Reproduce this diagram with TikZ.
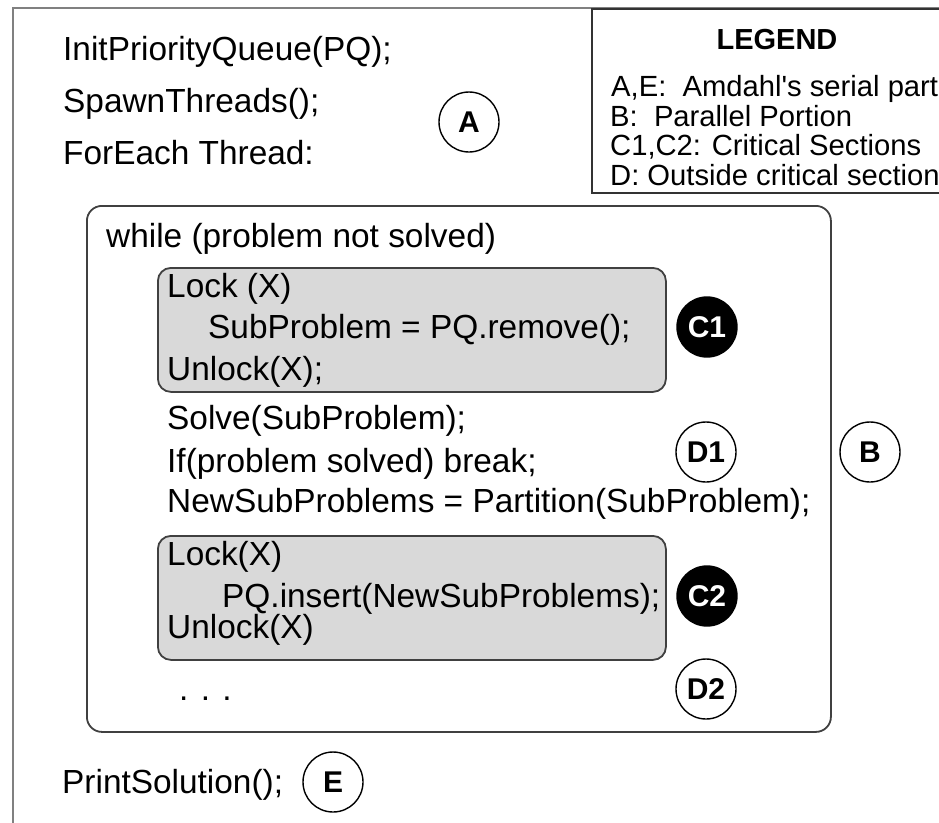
\documentclass[tikz,border=0pt]{standalone}
\usepackage{fontspec}
\setmainfont{Liberation Sans}
\begin{document}
\begin{tikzpicture}[x=1pt,y=-1pt,
  code/.style={anchor=base west, inner sep=0pt, font=\fontsize{33.4}{40}\selectfont},
  legendtxt/.style={anchor=base west, inner sep=0pt, font=\fontsize{29.2}{34}\selectfont},
  tag/.style={circle, draw=black, line width=1.4pt, minimum size=60pt, inner sep=0pt,
              font=\bfseries\fontsize{30}{36}\selectfont},
  ctag/.style={tag, fill=black, text=white},
  crit/.style={draw=black!75, line width=1.8pt, fill=black!15, rounded corners=13pt,
               anchor=north west, minimum width=508pt, minimum height=124pt, inner sep=0pt},
  loopbox/.style={draw=black!75, line width=1.8pt, rounded corners=15pt,
                  anchor=north west, minimum width=744pt, minimum height=526pt, inner sep=0pt},
  frame/.style={draw=black!50, line width=2.4pt},
  legendframe/.style={draw=black!80, line width=1.8pt},
]
\useasboundingbox (0,0) rectangle (939,822);

% outer frame and legend box
\draw[frame] (13,840) -- (13,8) -- (960,8);
\draw[legendframe] (592,9) rectangle (960,193);

% legend
\node[anchor=base, inner sep=0pt, font=\bfseries\fontsize{29}{34}\selectfont] (legtitle) at (777,49) {LEGEND};
\node[legendtxt] (legae) at (611,96) {A,E:\ \ Amdahl\textquotesingle s serial part};
\node[legendtxt] (legb) at (610,126) {B:\ \ Parallel Portion};
\node[legendtxt] (legc) at (610,155) {C1,C2: Critical Sections};
\node[legendtxt] (legd) at (610,185) {D: Outside critical section};

% serial prologue
\node[code] (init) at (63,60) {InitPriorityQueue(PQ);};
\node[code] (spawn) at (63,112) {SpawnThreads();};
\node[code] (foreach) at (63,164) {ForEach Thread:};
\node[tag] (tagA) at (469,122) {A};

% parallel loop
\node[loopbox] (loop) at (86,205) {};
\node[code] (while) at (106,247) {while (problem not solved)};

% first critical section
\node[crit] (crit1) at (157,267) {};
\node[code] (lock1) at (167,297) {Lock (X)};
\node[code] (remove) at (208,338) {SubProblem = PQ.remove();};
\node[code] (unlock1) at (167,380) {Unlock(X);};
\node[ctag] (tagC1) at (707,327) {C1};

% work outside critical sections
\node[code] (solve) at (167,429) {Solve(SubProblem);};
\node[code] (ifsolved) at (167,472) {If(problem solved) break;};
\node[code] (partition) at (167,512) {NewSubProblems = Partition(SubProblem);};
\node[tag] (tagD1) at (706,452) {D1};
\node[tag] (tagB) at (870,452) {B};

% second critical section
\node[crit] (crit2) at (157,535) {};
\node[code] (lock2) at (167,565) {Lock(X)};
\node[code] (insert) at (222,607) {PQ.insert(NewSubProblems);};
\node[code] (unlock2) at (167,638) {Unlock(X)};
\node[ctag] (tagC2) at (707,596) {C2};

\node[code] (dots) at (179,700) {. . .};
\node[tag] (tagD2) at (706,689) {D2};

% serial epilogue
\node[code] (print) at (62,793) {PrintSolution();};
\node[tag] (tagE) at (333,782) {E};
\end{tikzpicture}
\end{document}
